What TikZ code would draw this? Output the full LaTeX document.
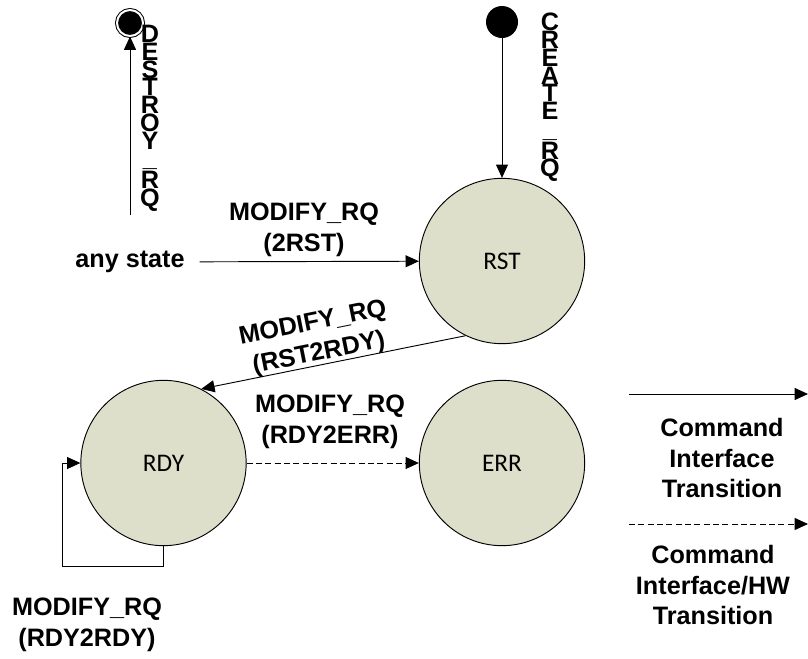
\documentclass[tikz,border=0pt]{standalone}
\usepackage{fontspec}
\setmainfont{Liberation Sans}
\newfontfamily\statefont{Carlito}
\usetikzlibrary{arrows.meta}
\definecolor{statefill}{RGB}{221,223,202}
\tikzset{
  >={Triangle[length=10pt,width=9pt]},
}
\tikzstyle{every node}=[font=\bfseries\fontsize{18.9}{23}\selectfont]
\tikzstyle{state}=[circle,draw,line width=0.7pt,fill=statefill,minimum size=124pt,inner sep=0,font=\statefont\fontsize{19}{23}\selectfont]
\tikzstyle{initial}=[circle,fill=black,minimum size=24pt,inner sep=0]
\tikzstyle{final}=[circle,draw=black,fill=black,line width=0.75pt,double=white,double distance=1.5pt,minimum size=19.5pt,inner sep=0]
\tikzstyle{trans}=[line width=0.7pt,->]
\tikzstyle{hwtrans}=[trans,dash pattern=on 4.5pt off 2.5pt]
\tikzstyle{lbl}=[align=center]
\tikzstyle{vlbl}=[align=center,inner sep=0,font=\bfseries\fontsize{18.9}{13.3}\selectfont]

\begin{document}
\begin{tikzpicture}[x=0.75pt,y=-0.75pt]
  \useasboundingbox (0,0) rectangle (808,658);
  % states
  \node[state] (rst) at (502,261) {RST};
  \node[state] (rdy) at (163.5,463) {RDY};
  \node[state] (err) at (502,463) {ERR};
  \node[initial] (create) at (502,22) {};
  \node[final] (destroy) at (130,23) {};
  \coordinate (destroyfrom) at (130,215);
  \node[lbl,inner xsep=11pt] (anystate) at (130,262) {any state};
  % transitions
  \draw[trans] (create) -- (rst);
  \draw[trans] (destroyfrom) -- (destroy);
  \draw[trans] (anystate) -- (rst);
  \draw[trans] (rst.244) -- (rdy.63);
  \draw[hwtrans] (rdy) -- (err);
  \draw[trans] (rdy.south) -- ++(0,20) -- ++(-101.5,0) |- (rdy.west);
  % labels
  \node[vlbl,anchor=north] (createlbl) at (550,13) {C\\R\\E\\A\\T\\E\\\_\\R\\Q};
  \node[vlbl,anchor=north] (destroylbl) at (150,25) {D\\E\\S\\T\\R\\O\\Y\\\_\\R\\Q};
  \node[lbl] (lbl2rst) at (304,230) {MODIFY\_RQ\\(2RST)};
  \node[lbl,rotate=11.3] (lblrst2rdy) at (316,339) {MODIFY\_RQ\\(RST2RDY)};
  \node[lbl] (lblrdy2err) at (330,422) {MODIFY\_RQ\\(RDY2ERR)};
  \node[lbl] (lblrdy2rdy) at (87,625) {MODIFY\_RQ\\(RDY2RDY)};
  % legend
  \coordinate (cmda) at (629,394);
  \coordinate (cmdb) at (808,394);
  \coordinate (hwa) at (629,524);
  \coordinate (hwb) at (808,524);
  \draw[trans] (cmda) -- (cmdb);
  \draw[hwtrans] (hwa) -- (hwb);
  \node[lbl] (cmdlbl) at (722,458) {Command\\Interface\\Transition};
  \node[lbl] (hwlbl) at (713,585) {Command\\Interface/HW\\Transition};
\end{tikzpicture}
\end{document}
